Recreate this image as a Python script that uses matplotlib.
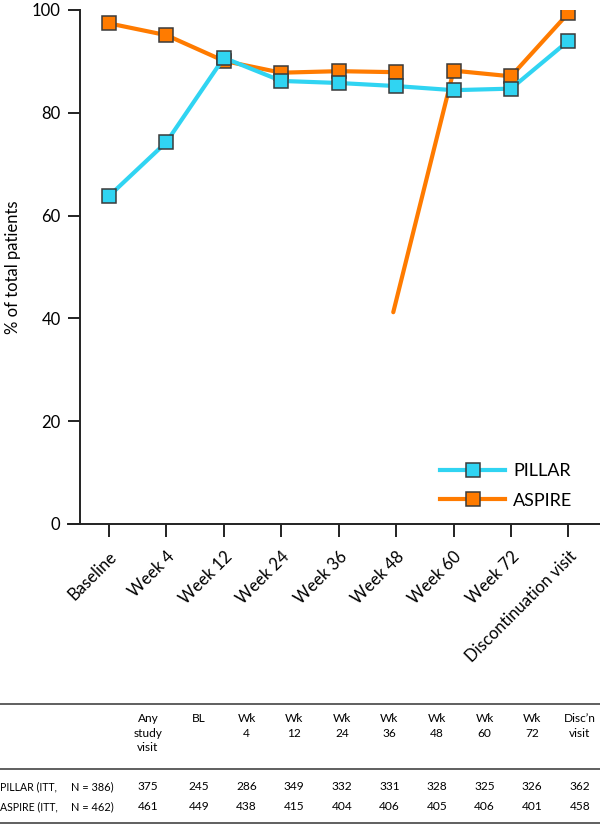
import matplotlib
matplotlib.use("Agg")
import matplotlib.pyplot as plt
from matplotlib.lines import Line2D
import numpy as np

plt.rcParams['font.family'] = ['Lato', 'DejaVu Sans']

categories = ["Baseline", "Week 4", "Week 12", "Week 24", "Week 36", "Week 48",
              "Week 60", "Week 72", "Discontinuation visit"]
pillar_pct = [63.8, 74.3, 90.7, 86.2, 85.8, 85.2, 84.4, 84.7, 94.0]
aspire_pct = [97.4, 95.1, 90.1, 87.8, 88.1, 87.9, 88.2, 87.1, 99.4]
# stray ASPIRE line segment visible in the original (from Week 60 down to ~41)
aspire_stray_pos = 4.95
aspire_stray_val = 41.2

table_headers = ["Any\nstudy\nvisit", "BL", "Wk\n4", "Wk\n12", "Wk\n24", "Wk\n36",
                 "Wk\n48", "Wk\n60", "Wk\n72", "Disc\u2019n\nvisit"]
row_labels = [("PILLAR (ITT,", "N = 386)"), ("ASPIRE (ITT,", "N = 462)")]
pillar_n = [375, 245, 286, 349, 332, 331, 328, 325, 326, 362]
aspire_n = [461, 449, 438, 415, 404, 406, 405, 406, 401, 458]

CYAN = "#30D4F2"
ORANGE = "#FF7B00"
EDGE = "#3a3a3a"

W, H = 600, 824
fig = plt.figure(figsize=(6, 8.24), dpi=100)
ax = fig.add_axes([80 / W, 1 - 524 / H, 520 / W, 514 / H])

x = np.arange(len(categories))
MS = 10

# ASPIRE line (with the stray segment)
ax.plot(x[:6], aspire_pct[:6], color=ORANGE, lw=3, solid_capstyle='round', zorder=2)
ax.plot([aspire_stray_pos] + list(x[6:]), [aspire_stray_val] + aspire_pct[6:],
        color=ORANGE, lw=3, solid_capstyle='round', zorder=2)
ax.plot(x, aspire_pct, ls='none', marker='s', ms=MS, mfc=ORANGE, mec=EDGE,
        mew=1.1, zorder=3)

# PILLAR
ax.plot(x, pillar_pct, color=CYAN, lw=3, marker='s', ms=MS, mfc=CYAN, mec=EDGE,
        mew=1.1, zorder=4)

ax.set_xlim(-0.505, 8.55)
ax.set_ylim(0, 100)
ax.set_yticks([0, 20, 40, 60, 80, 100])
ax.set_xticks(x)
ax.set_xticklabels(categories, rotation=45, ha='right', va='top',
                   rotation_mode='anchor')
for s in ['top', 'right']:
    ax.spines[s].set_visible(False)
for s in ['left', 'bottom']:
    ax.spines[s].set_linewidth(1.4)
    ax.spines[s].set_color('#222222')
ax.spines['bottom'].set_bounds(-0.505 - 12 / 57.4, 8.55)
ax.tick_params(axis='y', direction='out', length=9, width=1.4, labelsize=12,
               pad=5, color='#222222')
ax.tick_params(axis='x', direction='out', length=9.5, width=1.4, labelsize=12,
               pad=8, color='#222222')
ax.set_ylabel("% of total patients", fontsize=12, labelpad=8)

handles = [Line2D([], [], color=CYAN, lw=3, marker='s', ms=MS, mfc=CYAN, mec=EDGE, mew=1.1),
           Line2D([], [], color=ORANGE, lw=3, marker='s', ms=MS, mfc=ORANGE, mec=EDGE, mew=1.1)]
ax.legend(handles, ["PILLAR", "ASPIRE"], frameon=False, fontsize=13,
          loc='upper left', bbox_to_anchor=((440 - 80) / 520, (524 - 463) / 514),
          borderaxespad=0, borderpad=0, handlelength=3.6,
          handletextpad=0.45, labelspacing=0.75)

# ---- table ----
def fy(py):
    return 1 - py / H

def fx(px):
    return px / W

for py, lw in [(704, 1.2), (769, 1.2), (823, 1.2)]:
    fig.add_artist(Line2D([0, 1], [fy(py), fy(py)], transform=fig.transFigure,
                          color='#444444', lw=lw))

col_x = [148] + [199 + 47.6 * k for k in range(9)]
tfs = 8.6
for cx, hdr in zip(col_x, table_headers):
    fig.text(fx(cx), fy(713), hdr, ha='center', va='top', fontsize=tfs,
             linespacing=1.4)

for (lab1, lab2), vals, py in [(row_labels[0], pillar_n, 787), (row_labels[1], aspire_n, 807)]:
    fig.text(fx(0), fy(py), lab1, ha='left', va='center', fontsize=7.6)
    fig.text(fx(71), fy(py), lab2, ha='left', va='center', fontsize=7.9)
    for cx, v in zip(col_x, vals):
        fig.text(fx(cx), fy(py), str(v), ha='center', va='center', fontsize=tfs)

fig.savefig("out.png", dpi=100)
